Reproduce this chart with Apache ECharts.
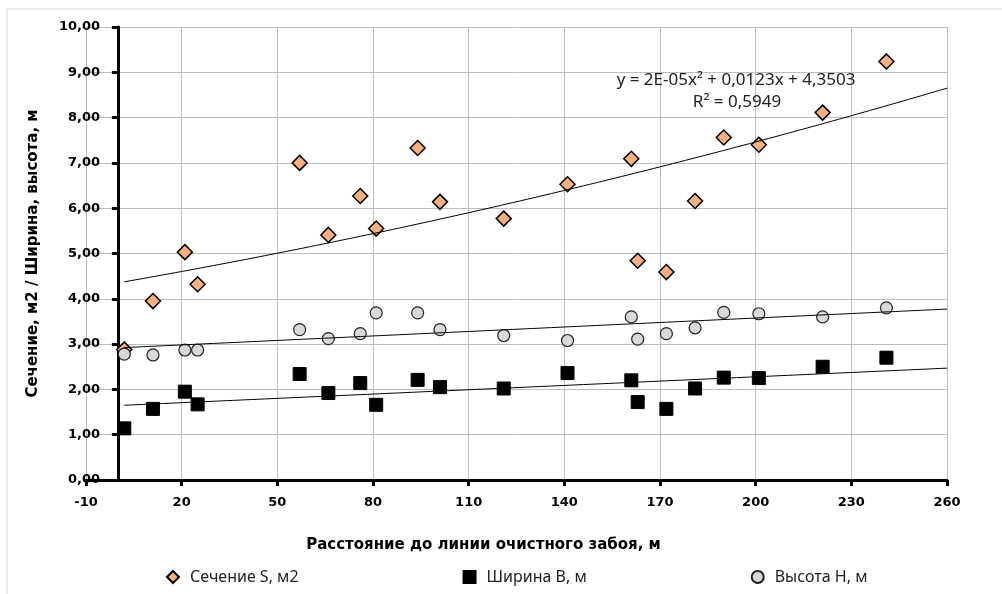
<!DOCTYPE html>
<html>
<head>
<meta charset="utf-8">
<script src="https://cdn.jsdelivr.net/npm/echarts@6/dist/echarts.min.js"></script>
<style>
  html, body { margin: 0; padding: 0; background: #fff; }
  #chart { width: 1002px; height: 594px; }
</style>
</head>
<body>
<div id="chart"></div>
<script>
// distance to the face, m
const distance = [2, 11, 21, 25, 57, 66, 76, 81, 94, 101, 121, 141, 161, 163, 172, 181, 190, 201, 221, 241];
// section S, m2
const sectionS = [2.88, 3.95, 5.03, 4.32, 7.0, 5.41, 6.27, 5.55, 7.33, 6.14, 5.77, 6.53, 7.09, 4.84, 4.59, 6.16, 7.56, 7.4, 8.11, 9.24];
// width B, m
const widthB = [1.14, 1.57, 1.95, 1.67, 2.34, 1.92, 2.14, 1.66, 2.21, 2.05, 2.02, 2.36, 2.2, 1.72, 1.57, 2.02, 2.26, 2.25, 2.5, 2.7];
// height H, m
const heightH = [2.78, 2.76, 2.87, 2.87, 3.32, 3.12, 3.23, 3.69, 3.69, 3.32, 3.19, 3.08, 3.6, 3.11, 3.23, 3.36, 3.7, 3.67, 3.6, 3.8];

const seriesNames = ["Сечение S, м2", "Ширина В, м", "Высота Н, м"];
const equationText = "y = 2E-05x² + 0,0123x + 4,3503";
const r2Text = "R² = 0,5949";
// polynomial trend of S as printed on the chart (x² term)
const trendCoefS = [4.3503, 0.0123, 0.0000163];
const trendEnd = 260;

// least squares line (like the Excel linear trendline)
function linearFit(xs, ys) {
  const n = xs.length;
  let sx = 0, sy = 0, sxx = 0, sxy = 0;
  xs.forEach((x, i) => {
    sx += x;
    sy += ys[i];
    sxx += x * x;
    sxy += x * ys[i];
  });
  const b = (n * sxy - sx * sy) / (n * sxx - sx * sx);
  const a = (sy - b * sx) / n;
  return [a, b];
}

function trendPoints(coef) {
  const pts = [];
  for (let x = distance[0]; x <= trendEnd; x += 2) {
    let y = 0;
    coef.forEach((v, i) => (y += v * Math.pow(x, i)));
    pts.push([x, y]);
  }
  return pts;
}

function pairs(ys) {
  return distance.map((x, i) => [x, ys[i]]);
}

let dom = document.getElementById("chart");
let myChart = echarts.init(dom, null, { renderer: "canvas" });

const axisFont = { fontFamily: "DejaVu Sans", fontWeight: "bold", fontSize: 13, color: "#000" };
const titleFont = { fontFamily: "DejaVu Sans", fontWeight: "bold", fontSize: 15, color: "#000" };
const trendStyle = { color: "#000", width: 1 };

let option = {
  animation: false,
  backgroundColor: "#fff",
  grid: { left: 86, right: 55, top: 27, bottom: 114, containLabel: false, outerBoundsMode: "none" },
  legend: {
    data: seriesNames,
    left: 161,
    top: 564,
    itemGap: 164,
    itemWidth: 12,
    itemHeight: 12,
    textStyle: { fontFamily: "Noto Sans", fontSize: 16, color: "#222", padding: [0, 0, 0, 6] },
  },
  xAxis: {
    type: "value",
    min: -10,
    max: 260,
    interval: 30,
    name: "Расстояние до линии очистного забоя, м",
    nameLocation: "middle",
    nameGap: 58,
    nameTextStyle: Object.assign({}, titleFont, { padding: [0, 66, 0, 0] }),
    axisLine: { show: true, lineStyle: { color: "#000", width: 3 } },
    axisTick: { show: true, length: 6, lineStyle: { color: "#000", width: 3 } },
    axisLabel: Object.assign({ margin: 16 }, axisFont),
    splitLine: { show: true, lineStyle: { color: "#BDBDBD", width: 1 } },
  },
  yAxis: {
    type: "value",
    min: 0,
    max: 10,
    interval: 1,
    name: "Сечение, м2 / Ширина, высота, м",
    nameLocation: "middle",
    nameGap: 45,
    nameTextStyle: titleFont,
    axisLine: { show: true, onZero: true, lineStyle: { color: "#000", width: 3 } },
    axisTick: { show: true, length: 6, lineStyle: { color: "#000", width: 3 } },
    axisLabel: Object.assign(
      {
        margin: -14,
        formatter: (v) => v.toFixed(2).replace(".", ","),
      },
      axisFont
    ),
    splitLine: { show: true, lineStyle: { color: "#BDBDBD", width: 1 } },
  },
  series: [
    {
      name: seriesNames[0],
      type: "scatter",
      symbol: "diamond",
      symbolSize: 15,
      itemStyle: { color: "#F5B183", borderColor: "#000", borderWidth: 1.5, opacity: 1 },
      data: pairs(sectionS),
      z: 3,
    },
    {
      name: seriesNames[1],
      type: "scatter",
      symbol: "rect",
      symbolSize: 13,
      itemStyle: { color: "#000", borderColor: "#000", borderWidth: 1, opacity: 1 },
      data: pairs(widthB),
      z: 3,
    },
    {
      name: seriesNames[2],
      type: "scatter",
      symbol: "circle",
      symbolSize: 12,
      itemStyle: { color: "#D9D9D9", borderColor: "#222", borderWidth: 1.2, opacity: 1 },
      data: pairs(heightH),
      z: 3,
    },
    {
      name: "trend S",
      type: "line",
      showSymbol: false,
      silent: true,
      lineStyle: trendStyle,
      data: trendPoints(trendCoefS),
      z: 4,
    },
    {
      name: "trend B",
      type: "line",
      showSymbol: false,
      silent: true,
      lineStyle: trendStyle,
      data: trendPoints(linearFit(distance, widthB)),
      z: 4,
    },
    {
      name: "trend H",
      type: "line",
      showSymbol: false,
      silent: true,
      lineStyle: trendStyle,
      data: trendPoints(linearFit(distance, heightH)),
      z: 4,
    },
  ],
  graphic: [
    {
      type: "polyline",
      shape: { points: [[7, 594], [7, 9], [1002, 9]] },
      style: { stroke: "#D9D9D9", lineWidth: 1, fill: null },
      silent: true,
    },
    {
      type: "text",
      x: 736,
      y: 80,
      style: {
        text: equationText,
        font: "17px 'Noto Sans'",
        fill: "#222",
        align: "center",
        verticalAlign: "middle",
      },
      z: 10,
    },
    {
      type: "text",
      x: 737,
      y: 102,
      style: {
        text: r2Text,
        font: "17px 'Noto Sans'",
        fill: "#222",
        align: "center",
        verticalAlign: "middle",
      },
      z: 10,
    },
  ],
};

myChart.setOption(option);

window.addEventListener("resize", function () {
  if (myChart) {
    myChart.resize();
  }
});
</script>
</body>
</html>
